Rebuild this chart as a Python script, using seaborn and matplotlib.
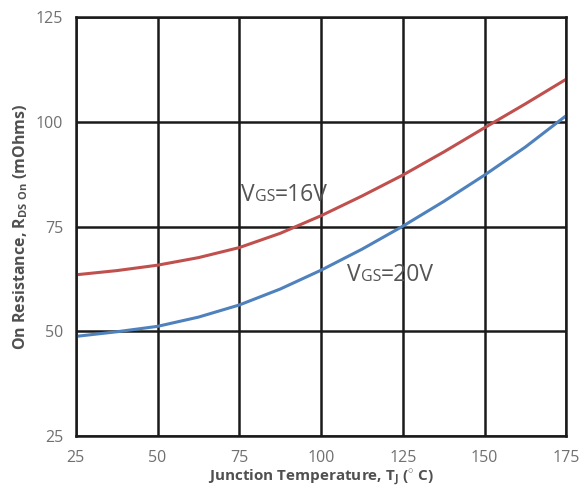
import matplotlib
matplotlib.use("Agg")
import matplotlib.pyplot as plt
import matplotlib.transforms as mtransforms
import seaborn as sns
import pandas as pd

temps = [25, 37.5, 50, 62.5, 75, 87.5, 100, 112.5, 125, 137.5, 150, 162.5, 175]
r_vgs16 = [63.5, 64.5, 65.8, 67.6, 70.0, 73.4, 77.6, 82.3, 87.3, 92.8, 98.6, 104.3, 110.2]
r_vgs20 = [48.8, 49.9, 51.2, 53.4, 56.3, 60.1, 64.6, 69.6, 75.1, 81.0, 87.3, 94.0, 101.5]
x_ticks = [25, 50, 75, 100, 125, 150, 175]
y_ticks = [25, 50, 75, 100, 125]

df = pd.DataFrame({
    "T": temps * 2,
    "R": r_vgs16 + r_vgs20,
    "VGS": ["16V"] * len(temps) + ["20V"] * len(temps),
})

sns.set_theme(style="white")
plt.rcParams['font.family'] = ['Open Sans', 'DejaVu Sans']
plt.rcParams['mathtext.fontset'] = 'custom'
plt.rcParams['mathtext.rm'] = 'Open Sans'
plt.rcParams['mathtext.bf'] = 'Open Sans:bold'

fig = plt.figure(figsize=(5.88, 4.9), dpi=100)
ax = fig.add_axes([0.129, 0.110, 0.834, 0.855])

sns.lineplot(data=df, x="T", y="R", hue="VGS",
             palette={"16V": "#c0504d", "20V": "#4f81bd"},
             linewidth=2.2, legend=False, ax=ax)

ax.set_xlim(25, 175)
ax.set_ylim(25, 125)
ax.set_xticks(x_ticks)
ax.set_yticks(y_ticks)
ax.grid(True, color="#1a1a1a", linewidth=1.8)
ax.set_axisbelow(True)
for s in ax.spines.values():
    s.set_color("#1a1a1a")
    s.set_linewidth(1.8)
ax.tick_params(axis="both", colors="#707070", labelsize=11.5, length=0)
ax.tick_params(axis="x", pad=10)
ax.tick_params(axis="y", pad=9)

ax.set_xlabel(r"Junction Temperature, T$_{\mathbf{J}}$ ($^{\circ}$ C)", fontsize=11,
              fontweight="bold", color="#505050", labelpad=1)
ax.set_ylabel(r"On Resistance, R$_{\mathbf{DS\ On}}$ (mOhms)", fontsize=11.5,
              fontweight="bold", color="#505050", labelpad=4)


def vgs_label(x, y, tail):
    fig.canvas.draw()
    r = fig.canvas.get_renderer()
    t = ax.text(x, y, "V", fontsize=16.5, color="#555555", va="baseline", ha="left")
    w = t.get_window_extent(renderer=r).width
    trans = mtransforms.offset_copy(ax.transData, fig=fig, x=w * 72 / fig.dpi, y=0, units="points")
    t2 = ax.text(x, y, "GS", fontsize=11.5, color="#555555", va="baseline", ha="left", transform=trans)
    w2 = t2.get_window_extent(renderer=r).width
    trans2 = mtransforms.offset_copy(ax.transData, fig=fig, x=(w + w2) * 72 / fig.dpi, y=0, units="points")
    ax.text(x, y, tail, fontsize=16.5, color="#555555", va="baseline", ha="left", transform=trans2)


vgs_label(75.5, 81.0, "=16V")
vgs_label(108.0, 62.0, "=20V")

fig.savefig("out.png", dpi=100)
